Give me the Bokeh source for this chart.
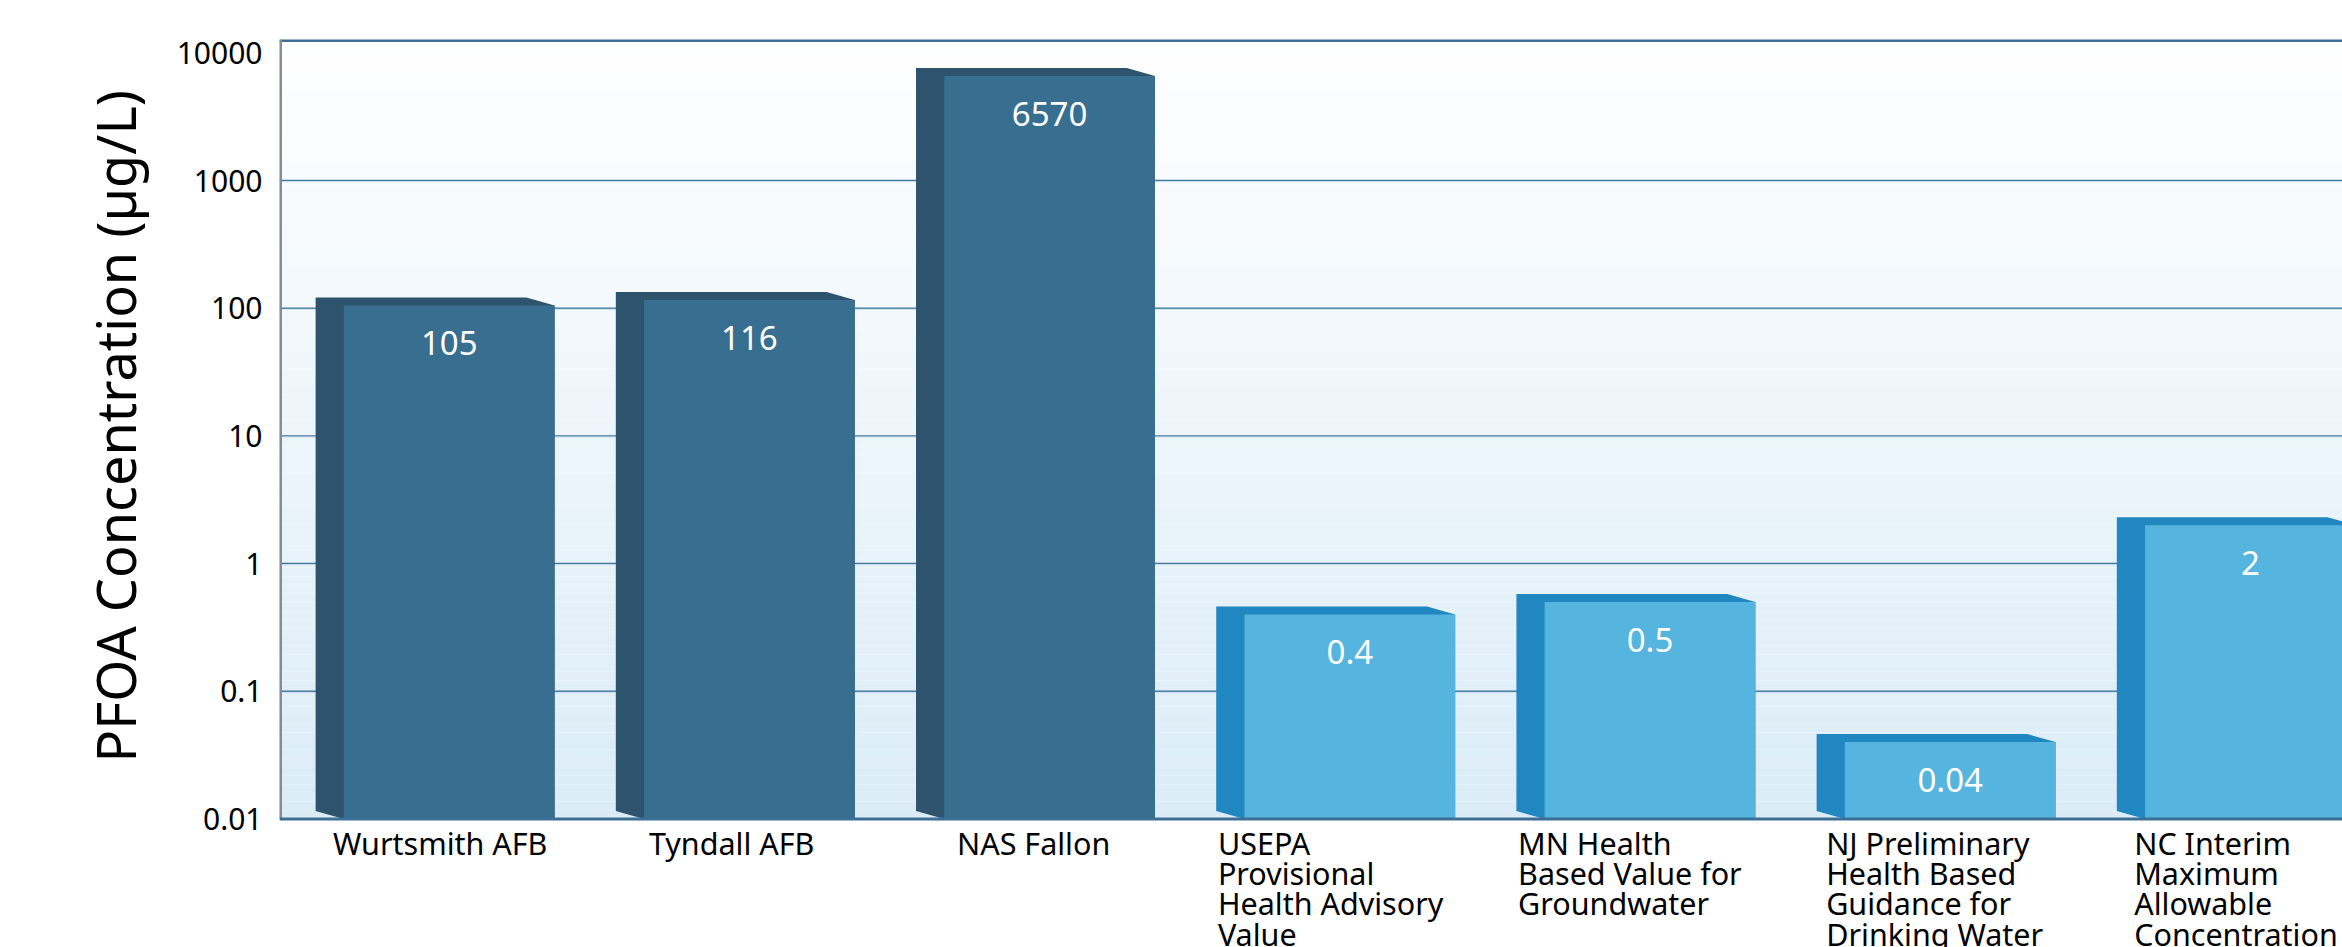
from bokeh.plotting import figure
from bokeh.models import Range1d, FixedTicker, CustomJSTickFormatter, Title
from bokeh.embed import file_html
from bokeh.resources import INLINE
from bokeh.core.properties import value
import numpy as np

# ---------------- data ----------------
categories = [
    "Wurtsmith AFB",
    "Tyndall AFB",
    "NAS Fallon",
    "USEPA\nProvisional\nHealth Advisory\nValue",
    "MN Health\nBased Value for\nGroundwater",
    "NJ Preliminary\nHealth Based\nGuidance for\nDrinking Water",
    "NC Interim\nMaximum\nAllowable\nConcentration",
]
concentrations = [105, 116, 6570, 0.4, 0.5, 0.04, 2]
value_labels = ["105", "116", "6570", "0.4", "0.5", "0.04", "2"]
groups = ["site", "site", "site", "standard", "standard", "standard", "standard"]
y_ticks = [0.01, 0.1, 1, 10, 100, 1000, 10000]
y_tick_labels = ["0.01", "0.1", "1", "10", "100", "1000", "10000"]
y_title = "PFOA Concentration (\u00b5g/L)"

# ---------------- styling ----------------
W, H = 2342, 947
FRAME_LEFT, FRAME_TOP = 279, 39
PX_PER_DECADE = 127.7
ZERO_PX = 818.5           # pixel row of the 0.01 baseline
PX_PER_CAT = 300.2
FIRST_CAT_PX = 434.6

front_colors = {"site": "#386e8f", "standard": "#56b5de"}
side_colors = {"site": "#2e536d", "standard": "#2087c0"}

base = 0.01
half = 0.398      # half of the bar footprint (category units)
depth = 0.094     # oblique depth (category units)
k = 10 ** (8 / PX_PER_DECADE)  # vertical shift of back face

log_top = np.log10(base) + (ZERO_PX - FRAME_TOP) / PX_PER_DECADE
log_bot = np.log10(base) - (H - ZERO_PX) / PX_PER_DECADE
x_start = -(FIRST_CAT_PX - FRAME_LEFT) / PX_PER_CAT
x_end = x_start + (W - FRAME_LEFT) / PX_PER_CAT

p = figure(
    width=W, height=H,
    y_axis_type="log",
    x_axis_location=None,
    x_range=Range1d(x_start, x_end),
    y_range=Range1d(10 ** log_bot, 10 ** log_top),
    output_backend="svg",
    toolbar_location=None,
    min_border_left=FRAME_LEFT, min_border_right=0,
    min_border_top=FRAME_TOP, min_border_bottom=0,
)
p.outline_line_color = None
p.background_fill_color = "white"
p.border_fill_color = "white"
p.xgrid.visible = False
p.ygrid.visible = False

# background gradient (white at top -> light blue at bottom)
n = 90
edges = 10 ** np.linspace(np.log10(base), log_top, n + 1)
c_bot = np.array([219, 236, 247])
c_top = np.array([255, 255, 255])
cols = []
for i in range(n):
    t = (i + 0.5) / n
    c = (c_bot * (1 - t) + c_top * t).round().astype(int)
    cols.append("#%02x%02x%02x" % tuple(c))
p.quad(left=x_start, right=x_end, bottom=edges[:-1], top=edges[1:],
       fill_color=cols, line_color=None)

# grid lines (no line drawn at the top tick)
grid_y = y_ticks[1:-1]
p.segment(x0=x_start, x1=x_end, y0=grid_y, y1=grid_y,
          line_color="#43769c", line_width=1.5)
p.segment(x0=x_start, x1=x_end, y0=[t / 1.02 for t in grid_y], y1=[t / 1.02 for t in grid_y],
          line_color="#c9deec", line_width=1)

# bars
xc = list(range(len(categories)))
side_xs, side_ys, fl, fr, fcol, scol = [], [], [], [], [], []
for c, v, g in zip(xc, concentrations, groups):
    side_xs.append([c - half, c + half - depth, c + half, c + half, c - half + depth, c - half])
    side_ys.append([v * k, v * k, v, base, base, base * k])
    fl.append(c - half + depth)
    fr.append(c + half)
    fcol.append(front_colors[g])
    scol.append(side_colors[g])

p.patches(xs=side_xs, ys=side_ys, fill_color=scol, line_color=None)
p.quad(left=fl, right=fr, bottom=base, top=concentrations, fill_color=fcol, line_color=None)

# value labels
p.text(x=[c + depth / 2 for c in xc], y=concentrations, text=value_labels,
       text_color="white", text_font=value("Noto Sans"), text_font_size="33px",
       text_align="center", text_baseline="middle", y_offset=38)

# frame borders
p.segment(x0=x_start, x1=x_end, y0=10 ** log_top, y1=10 ** log_top, line_color="#3c6f96", line_width=5)
p.segment(x0=x_start, x1=x_start, y0=base, y1=10 ** log_top, line_color="#858c93", line_width=5)
p.segment(x0=x_start, x1=x_end, y0=base, y1=base, line_color="#3c6f96", line_width=3)

# category labels (block centred under bar, lines left aligned)
fs = 30.5
offs = [-max(len(s) for s in lab.split("\n")) * 0.515 * fs / 2 for lab in categories]
p.text(x=xc, y=[base] * len(xc), text=categories, x_offset=offs, y_offset=3,
       text_color="black", text_font=value("Noto Sans"), text_font_size=f"{fs}px",
       text_align="left", text_baseline="top", text_line_height=0.72)

# y axis
ax = p.yaxis[0]
ax.ticker = FixedTicker(ticks=y_ticks)
ax.formatter = CustomJSTickFormatter(args=dict(tvals=y_ticks, tlabs=y_tick_labels), code="""
for (let i = 0; i < tvals.length; i++) {
  if (Math.abs(Math.log10(tvals[i]) - Math.log10(tick)) < 1e-6) return tlabs[i];
}
return "";
""")
ax.axis_line_color = None
ax.major_tick_line_color = None
ax.minor_tick_line_color = None
ax.major_label_standoff = 11
ax.major_label_text_font = "Noto Sans"
ax.major_label_text_font_size = "30px"
ax.major_label_text_color = "black"

# y title: starts ~185 px above the bottom edge of the frame
title = Title(text=y_title, align="left", offset=185, standoff=44,
              text_font="'Liberation Sans Narrow', 'Noto Sans', sans-serif",
              text_font_size="54px", text_font_style="normal", text_color="black")
p.add_layout(title, "left")

open("out.html", "w").write(file_html(p, INLINE))
